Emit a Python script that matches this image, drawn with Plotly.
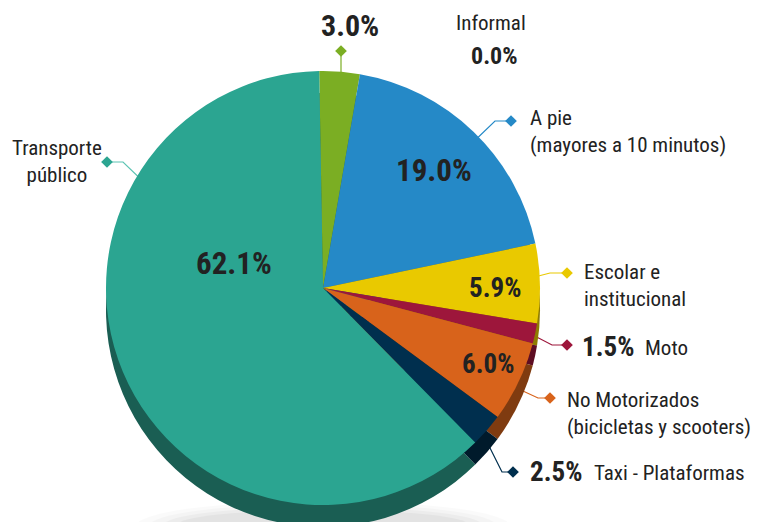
import plotly.graph_objects as go

# slices in clockwise order starting at 12 o'clock
labels = ["Informal", "Otros", "A pie", "Escolar e institucional", "Moto",
          "No Motorizados", "Taxi - Plataformas", "Transporte público"]
values = [0.0, 3.0, 19.0, 5.9, 1.5, 6.0, 2.5, 62.1]
colors = ["#8a8a8a", "#7bae23", "#2589c7", "#e9c900", "#9d163b",
          "#d8631b", "#002f4e", "#2ba591"]
side_colors = ["#555555", "#4d6e16", "#175780", "#8f7b00", "#5e0d23",
               "#7f3b10", "#001a2b", "#1a5e53"]

FONT = "Liberation Sans Narrow, Arial Narrow, Roboto Condensed, Liberation Sans, sans-serif"
W, H = 763, 522
OFF = 8  # page body margin, so screen px = figure px + 8

# pie geometry in screen pixels
cx, cy, r = 323, 288, 217
depth = 22

def dom(cx, cy):
    x, y = cx - OFF, H - (cy - OFF)
    return dict(x=[(x - r) / W, (x + r) / W], y=[(y - r) / H, (y + r) / H])

fig = go.Figure()

# soft ground shadow
for i, a in enumerate([0.02, 0.025, 0.03, 0.035]):
    fig.add_shape(type="circle", xref="x", yref="y", layer="below",
                  x0=cx - r + 30 + i * 14, x1=cx + r - 30 - i * 14,
                  y0=cy + r - 4 + i * 3, y1=cy + r + depth + 24 - i * 4,
                  fillcolor=f"rgba(0,0,0,{a})", line_width=0)

# side wall (shifted, darker pie)
fig.add_trace(go.Pie(labels=labels, values=values, sort=False, direction="clockwise",
                     rotation=-1, marker=dict(colors=side_colors, line=dict(width=0)),
                     textinfo="none", hoverinfo="skip", showlegend=False,
                     domain=dom(cx, cy + depth)))
# top face
fig.add_trace(go.Pie(labels=labels, values=values, sort=False, direction="clockwise",
                     rotation=-1, marker=dict(colors=colors, line=dict(width=0)),
                     textinfo="none", hoverinfo="label+percent", showlegend=False,
                     domain=dom(cx, cy)))

pct = {lab: f"{v:.1f}%" for lab, v in zip(labels, values)}
col = dict(zip(labels, colors))

# leader lines: label -> polyline points (screen px), last point gets a diamond
leaders = {
    "Otros": [(341, 92), (341, 51)],
    "A pie": [(467, 148), (495, 121), (511, 121)],
    "Escolar e institucional": [(523, 280), (550, 273), (567, 273)],
    "Moto": [(527, 332), (552, 345), (567, 345)],
    "No Motorizados": [(510, 385), (538, 398), (550, 398)],
    "Taxi - Plataformas": [(477, 422), (502, 472), (513, 472)],
    "Transporte público": [(150, 188), (123, 162), (107, 162)],
}
for lab, pts in leaders.items():
    c = col[lab]
    if lab == "Transporte público":
        c = "#5cc4b3"
    fig.add_trace(go.Scatter(x=[p[0] for p in pts], y=[p[1] for p in pts], mode="lines",
                             line=dict(color=c, width=1.2), hoverinfo="skip", showlegend=False))
    fig.add_trace(go.Scatter(x=[pts[-1][0]], y=[pts[-1][1]], mode="markers",
                             marker=dict(symbol="diamond", size=9, color=col[lab]),
                             hoverinfo="skip", showlegend=False))

def note(x, y, text, size, bold=False, xanchor="center", align="center"):
    fig.add_annotation(x=x, y=y, xref="x", yref="y", text=f"<b>{text}</b>" if bold else text,
                       showarrow=False, xanchor=xanchor, yanchor="middle", align=align,
                       font=dict(family=FONT, size=size, color="#222222"))

# percentages
note(350, 25, pct["Otros"], 30, True)
note(434, 170, pct["A pie"], 31, True)
note(234, 263, pct["Transporte público"], 31, True)
note(495, 288, pct["Escolar e institucional"], 27, True)
note(488, 364, pct["No Motorizados"], 27, True)
note(580, 347, pct["Moto"], 27, True, xanchor="left")
note(528, 472, pct["Taxi - Plataformas"], 27, True, xanchor="left")
note(494, 56, pct["Informal"], 24, True)

# category names
note(491, 23, "Informal", 21)
note(528, 131, "A pie<br>(mayores a 10 minutos)", 21, xanchor="left", align="left")
note(582, 285, "Escolar e<br>institucional", 21, xanchor="left", align="left")
note(643, 348, "Moto", 21, xanchor="left")
note(565, 413, "No Motorizados<br>(bicicletas y scooters)", 21, xanchor="left", align="left")
note(592, 473, "Taxi - Plataformas", 21, xanchor="left")
note(57, 161, "Transporte<br>público", 21)

fig.update_layout(
    width=W, height=H, margin=dict(l=0, r=0, t=0, b=0),
    paper_bgcolor="white", plot_bgcolor="rgba(0,0,0,0)",
    xaxis=dict(range=[OFF, W + OFF], visible=False, fixedrange=True),
    yaxis=dict(range=[H + OFF, OFF], visible=False, fixedrange=True),
    showlegend=False,
)
fig.write_html("out.html")
